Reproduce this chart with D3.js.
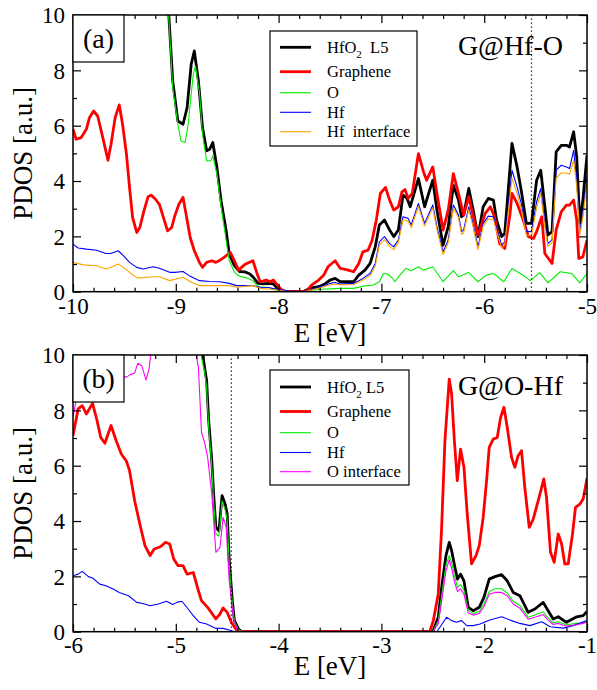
<!DOCTYPE html>
<html>
<head>
<meta charset="utf-8">
<script src="https://cdn.jsdelivr.net/npm/d3@7"></script>
<style>
  body { margin: 0; background: #fff; }
  svg text { font-family: "Liberation Serif", "Times New Roman", "DejaVu Serif", serif !important; white-space: pre; }
</style>
</head>
<body>
<svg id="chart" width="597" height="690"></svg>
<script>
// ---- data: [E (eV), PDOS (a.u.)] ----
// panel (a) G@Hf-O
const aTotal = [[-10,14],[-9.10,12],[-9.03,7.62],[-8.98,6.17],[-8.93,6.05],[-8.89,6.65],[-8.85,8.22],[-8.82,8.70],[-8.78,7.62],[-8.74,5.93],[-8.70,5.09],[-8.67,5.15],[-8.64,5.39],[-8.60,4.49],[-8.56,3.29],[-8.51,2.20],[-8.48,1.36],[-8.43,0.94],[-8.38,0.73],[-8.33,0.72],[-8.28,0.64],[-8.25,0.54],[-8.20,0.30],[-8.16,0.28],[-8.10,0.30],[-8.05,0.28],[-8.00,0.08],[-7.92,0],[-7.76,0],[-7.70,0.12],[-7.61,0.18],[-7.55,0.28],[-7.50,0.42],[-7.45,0.48],[-7.40,0.36],[-7.34,0.36],[-7.27,0.36],[-7.22,0.60],[-7.16,0.78],[-7.11,1.02],[-7.06,1.62],[-7.02,2.41],[-6.97,2.59],[-6.92,2.23],[-6.88,1.99],[-6.835,2.23],[-6.79,3.49],[-6.75,3.37],[-6.72,3.07],[-6.64,4.09],[-6.58,3.07],[-6.50,4.03],[-6.46,2.95],[-6.40,1.68],[-6.35,2.35],[-6.30,3.85],[-6.25,3.31],[-6.22,2.71],[-6.20,2.77],[-6.15,3.73],[-6.11,3.01],[-6.06,1.99],[-6.01,3.07],[-5.96,3.37],[-5.91,3.31],[-5.88,2.59],[-5.83,1.99],[-5.80,2.11],[-5.73,5.36],[-5.68,4.51],[-5.64,3.67],[-5.59,2.47],[-5.54,2.47],[-5.49,4.03],[-5.45,4.39],[-5.41,3.07],[-5.38,2.05],[-5.34,2.17],[-5.30,5.05],[-5.25,5.29],[-5.20,5.29],[-5.17,5.23],[-5.13,5.78],[-5.10,4.87],[-5.07,2.47],[-5.04,3.31],[-5.00,4.93]];
const aGraphene = [[-10,5.87],[-9.97,5.51],[-9.92,5.57],[-9.87,5.87],[-9.84,6.29],[-9.80,6.53],[-9.76,6.35],[-9.71,5.57],[-9.66,4.75],[-9.63,5.33],[-9.59,6.29],[-9.55,6.75],[-9.52,6.11],[-9.48,4.97],[-9.45,3.77],[-9.42,2.68],[-9.38,2.14],[-9.35,2.32],[-9.31,2.92],[-9.27,3.43],[-9.24,3.49],[-9.20,3.35],[-9.16,3.16],[-9.12,2.68],[-9.08,2.20],[-9.04,2.32],[-9.01,2.74],[-8.97,3.16],[-8.93,3.41],[-8.90,2.80],[-8.86,1.96],[-8.82,1.48],[-8.77,1.06],[-8.74,0.88],[-8.70,1.06],[-8.65,1.12],[-8.61,1.06],[-8.57,1.14],[-8.53,1.24],[-8.47,1.42],[-8.43,1.12],[-8.39,0.78],[-8.33,0.98],[-8.25,1.12],[-8.21,0.66],[-8.18,0.36],[-8.12,0.42],[-8.08,0.36],[-8.05,0.42],[-8.00,0.18],[-7.95,0],[-7.73,0],[-7.68,0.24],[-7.61,0.42],[-7.56,0.60],[-7.52,0.90],[-7.45,1.12],[-7.40,0.84],[-7.34,0.80],[-7.27,0.72],[-7.22,1.02],[-7.18,1.44],[-7.13,1.50],[-7.09,1.86],[-7.05,2.58],[-7.01,3.55],[-6.96,3.77],[-6.92,3.31],[-6.88,2.95],[-6.835,3.07],[-6.80,3.61],[-6.77,3.69],[-6.74,3.37],[-6.70,3.55],[-6.64,4.99],[-6.59,4.33],[-6.56,4.03],[-6.50,4.51],[-6.46,3.55],[-6.40,2.23],[-6.35,2.95],[-6.30,4.27],[-6.25,3.55],[-6.20,2.77],[-6.15,3.43],[-6.11,2.77],[-6.06,2.05],[-5.99,2.83],[-5.94,3.07],[-5.90,2.71],[-5.85,1.74],[-5.80,1.56],[-5.75,2.77],[-5.73,3.55],[-5.68,3.19],[-5.62,2.59],[-5.57,1.99],[-5.52,1.93],[-5.49,2.17],[-5.44,2.71],[-5.41,1.38],[-5.34,1.02],[-5.30,2.23],[-5.25,2.89],[-5.20,3.13],[-5.17,3.13],[-5.13,3.31],[-5.10,2.59],[-5.08,1.20],[-5.04,1.26],[-5.00,1.87]];
const aO = [[-10,14],[-9.10,12],[-9.03,7.38],[-8.98,6.05],[-8.95,5.45],[-8.91,5.39],[-8.88,6.05],[-8.83,7.86],[-8.81,8.16],[-8.77,7.20],[-8.74,5.69],[-8.70,4.73],[-8.66,4.73],[-8.64,4.91],[-8.60,4.25],[-8.56,3.10],[-8.51,1.84],[-8.48,1.12],[-8.43,0.70],[-8.38,0.56],[-8.31,0.50],[-8.25,0.40],[-8.20,0.18],[-8.10,0.15],[-8.00,0.05],[-7.92,0],[-7.75,0],[-7.63,0.08],[-7.40,0.12],[-7.27,0.12],[-7.18,0.20],[-7.08,0.24],[-7.02,0.36],[-6.98,0.66],[-6.94,0.64],[-6.89,0.48],[-6.87,0.36],[-6.82,0.60],[-6.76,0.84],[-6.71,0.76],[-6.64,0.90],[-6.59,0.78],[-6.50,0.90],[-6.40,0.36],[-6.30,0.76],[-6.25,0.54],[-6.15,0.69],[-6.06,0.36],[-5.98,0.60],[-5.91,0.66],[-5.81,0.36],[-5.73,0.84],[-5.65,0.66],[-5.55,0.40],[-5.46,0.69],[-5.38,0.32],[-5.26,0.72],[-5.15,0.66],[-5.07,0.32],[-5.00,0.66]];
const aHf = [[-10,1.72],[-9.95,1.58],[-9.87,1.54],[-9.77,1.50],[-9.68,1.38],[-9.63,1.38],[-9.56,1.48],[-9.51,1.30],[-9.45,1.06],[-9.38,0.88],[-9.32,0.82],[-9.22,0.90],[-9.16,0.85],[-9.06,0.70],[-9.01,0.70],[-8.93,0.73],[-8.87,0.58],[-8.77,0.40],[-8.67,0.37],[-8.57,0.36],[-8.48,0.30],[-8.41,0.22],[-8.31,0.22],[-8.25,0.22],[-8.18,0.16],[-8.10,0.15],[-8.00,0.08],[-7.90,0.02],[-7.75,0],[-7.61,0.16],[-7.50,0.30],[-7.45,0.33],[-7.40,0.28],[-7.27,0.30],[-7.18,0.48],[-7.11,0.66],[-7.06,1.02],[-7.02,1.80],[-6.97,1.99],[-6.92,1.74],[-6.88,1.62],[-6.835,1.87],[-6.79,2.71],[-6.74,2.65],[-6.71,2.41],[-6.64,3.19],[-6.58,2.47],[-6.50,3.13],[-6.46,2.35],[-6.40,1.44],[-6.35,1.87],[-6.30,3.13],[-6.25,2.77],[-6.22,2.17],[-6.20,2.23],[-6.15,3.07],[-6.11,2.47],[-6.06,1.62],[-6.01,2.47],[-5.96,2.73],[-5.91,2.71],[-5.88,2.29],[-5.83,1.68],[-5.80,1.80],[-5.73,4.39],[-5.68,3.79],[-5.64,3.19],[-5.59,2.17],[-5.54,2.17],[-5.49,3.25],[-5.45,3.73],[-5.41,2.47],[-5.38,1.74],[-5.34,1.87],[-5.30,4.39],[-5.25,4.57],[-5.20,4.51],[-5.17,4.45],[-5.13,5.11],[-5.10,4.03],[-5.07,2.17],[-5.04,2.83],[-5.00,4.15]];
const aHfInt = [[-10,1.06],[-9.90,0.97],[-9.77,0.94],[-9.68,0.82],[-9.63,0.88],[-9.56,1.00],[-9.51,0.88],[-9.43,0.64],[-9.37,0.49],[-9.22,0.54],[-9.16,0.54],[-9.06,0.40],[-8.93,0.52],[-8.85,0.34],[-8.77,0.22],[-8.57,0.22],[-8.48,0.22],[-8.41,0.16],[-8.25,0.22],[-8.18,0.12],[-8.10,0.10],[-8.00,0.05],[-7.90,0],[-7.75,0],[-7.61,0.12],[-7.50,0.25],[-7.45,0.28],[-7.40,0.24],[-7.27,0.26],[-7.18,0.42],[-7.11,0.58],[-7.06,0.92],[-7.02,1.68],[-6.97,1.88],[-6.92,1.64],[-6.88,1.52],[-6.835,1.77],[-6.79,2.60],[-6.74,2.55],[-6.71,2.31],[-6.64,3.08],[-6.58,2.37],[-6.50,3.02],[-6.46,2.25],[-6.40,1.34],[-6.35,1.77],[-6.30,3.02],[-6.25,2.67],[-6.22,2.07],[-6.20,2.13],[-6.15,2.97],[-6.11,2.37],[-6.06,1.52],[-6.01,2.37],[-5.96,2.63],[-5.91,2.61],[-5.88,2.19],[-5.83,1.58],[-5.80,1.70],[-5.73,4.10],[-5.68,3.55],[-5.64,3.00],[-5.59,2.05],[-5.54,2.02],[-5.49,3.05],[-5.45,3.55],[-5.41,2.35],[-5.38,1.64],[-5.34,1.77],[-5.30,4.10],[-5.25,4.30],[-5.20,4.28],[-5.17,4.25],[-5.13,4.75],[-5.10,3.80],[-5.07,2.05],[-5.04,2.70],[-5.00,3.95]];

// panel (b) G@O-Hf
const bTotal = [[-6,14],[-4.77,12],[-4.73,9.8],[-4.70,9.07],[-4.68,7.63],[-4.65,6.18],[-4.63,4.86],[-4.61,3.77],[-4.58,3.65],[-4.55,4.92],[-4.52,4.61],[-4.50,4.25],[-4.48,2.57],[-4.45,1.12],[-4.43,0.40],[-4.39,0.10],[-4.36,0],[-2.50,0],[-2.447,0.52],[-2.414,1.60],[-2.372,2.75],[-2.34,3.23],[-2.317,2.93],[-2.285,2.33],[-2.26,1.90],[-2.23,2.08],[-2.197,1.84],[-2.155,0.88],[-2.107,0.76],[-2.048,0.88],[-2.003,1.24],[-1.951,1.90],[-1.896,1.99],[-1.831,2.06],[-1.776,1.84],[-1.718,1.42],[-1.653,1.30],[-1.572,0.70],[-1.507,0.82],[-1.426,1.06],[-1.378,0.76],[-1.329,0.46],[-1.28,0.54],[-1.20,0.34],[-1.10,0.54],[-1.037,0.58],[-1.00,0.73]];
const bGraphene = [[-6,7.08],[-5.95,8.05],[-5.91,8.17],[-5.87,7.87],[-5.81,8.25],[-5.77,7.69],[-5.73,7.02],[-5.69,6.81],[-5.63,7.45],[-5.58,6.90],[-5.53,6.42],[-5.48,6.16],[-5.45,5.82],[-5.40,4.73],[-5.35,3.89],[-5.30,3.11],[-5.25,2.75],[-5.21,2.99],[-5.15,3.07],[-5.10,3.23],[-5.06,3.17],[-5.02,2.63],[-4.98,2.39],[-4.93,2.39],[-4.89,2.08],[-4.83,2.14],[-4.78,1.48],[-4.75,1.12],[-4.69,0.88],[-4.61,0.46],[-4.57,0.64],[-4.54,0.86],[-4.50,0.70],[-4.46,0.34],[-4.41,0.06],[-4.38,0],[-2.53,0],[-2.495,0.40],[-2.447,1.36],[-2.414,3.77],[-2.382,6.90],[-2.366,7.75],[-2.34,9.13],[-2.317,8.59],[-2.29,6.90],[-2.262,5.46],[-2.23,6.60],[-2.197,5.94],[-2.165,4.25],[-2.123,2.45],[-2.08,2.75],[-2.048,3.11],[-2.01,4.13],[-1.977,5.46],[-1.951,6.66],[-1.912,6.96],[-1.873,7.02],[-1.84,7.75],[-1.808,8.11],[-1.776,7.39],[-1.734,6.30],[-1.702,5.94],[-1.67,6.36],[-1.637,6.54],[-1.605,5.22],[-1.562,3.77],[-1.523,4.07],[-1.475,4.73],[-1.42,5.52],[-1.394,4.86],[-1.355,2.87],[-1.319,2.51],[-1.28,3.53],[-1.248,3.19],[-1.216,2.45],[-1.183,2.45],[-1.141,3.53],[-1.112,4.49],[-1.07,4.61],[-1.037,4.80],[-1.00,5.55]];
const bO = [[-6,14],[-4.78,12],[-4.75,9.9],[-4.72,9.4],[-4.70,8.8],[-4.68,7.4],[-4.65,6.0],[-4.63,4.6],[-4.61,3.53],[-4.58,3.45],[-4.55,4.73],[-4.52,4.40],[-4.50,4.05],[-4.48,2.40],[-4.45,1.0],[-4.43,0.35],[-4.39,0.08],[-4.36,0],[-2.50,0],[-2.447,0.40],[-2.414,1.30],[-2.372,2.40],[-2.34,2.75],[-2.317,2.50],[-2.285,1.95],[-2.26,1.60],[-2.23,1.70],[-2.197,1.50],[-2.155,0.78],[-2.107,0.65],[-2.048,0.74],[-2.003,1.00],[-1.951,1.45],[-1.896,1.55],[-1.831,1.55],[-1.776,1.40],[-1.718,1.10],[-1.653,0.95],[-1.572,0.52],[-1.507,0.60],[-1.426,0.72],[-1.378,0.50],[-1.329,0.32],[-1.28,0.36],[-1.20,0.25],[-1.10,0.30],[-1.037,0.32],[-1.00,0.38]];
const bHf = [[-6,2.02],[-5.95,2.08],[-5.91,2.18],[-5.85,1.99],[-5.81,1.94],[-5.74,1.72],[-5.68,1.66],[-5.61,1.54],[-5.55,1.42],[-5.46,1.30],[-5.38,1.06],[-5.32,1.02],[-5.25,0.94],[-5.17,1.00],[-5.09,1.10],[-5.03,0.98],[-4.99,1.06],[-4.94,1.10],[-4.88,0.82],[-4.83,0.58],[-4.77,0.34],[-4.70,0.28],[-4.62,0.13],[-4.54,0.12],[-4.48,0.06],[-4.43,0],[-2.46,0],[-2.366,0.52],[-2.317,0.40],[-2.27,0.34],[-2.22,0.40],[-2.17,0.22],[-2.107,0.22],[-2.04,0.28],[-1.945,0.42],[-1.83,0.54],[-1.734,0.40],[-1.653,0.30],[-1.556,0.22],[-1.44,0.36],[-1.36,0.18],[-1.23,0.13],[-1.134,0.22],[-1.00,0.40]];
const bOInt = [[-6,7.75],[-5.97,8.35],[-5.95,8.95],[-5.92,10.6],[-5.62,10.8],[-5.58,9.40],[-5.53,9.25],[-5.48,9.20],[-5.44,9.30],[-5.40,9.35],[-5.37,9.70],[-5.33,9.60],[-5.29,9.10],[-5.26,9.50],[-5.22,10.8],[-4.84,10.8],[-4.78,9.55],[-4.75,7.20],[-4.72,6.84],[-4.69,6.30],[-4.65,4.98],[-4.61,2.87],[-4.57,3.05],[-4.54,4.13],[-4.51,3.77],[-4.48,1.84],[-4.44,0.52],[-4.40,0.04],[-4.38,0],[-2.50,0],[-2.447,0.30],[-2.414,1.10],[-2.372,2.20],[-2.34,2.60],[-2.317,2.30],[-2.285,1.75],[-2.26,1.45],[-2.23,1.55],[-2.197,1.35],[-2.155,0.68],[-2.107,0.60],[-2.048,0.66],[-2.003,0.90],[-1.951,1.35],[-1.896,1.42],[-1.831,1.42],[-1.776,1.30],[-1.718,1.00],[-1.653,0.85],[-1.572,0.45],[-1.507,0.52],[-1.426,0.62],[-1.378,0.42],[-1.329,0.26],[-1.28,0.30],[-1.20,0.20],[-1.10,0.25],[-1.037,0.30],[-1.00,0.35]];

const aLabels = ["HfO_2  L5", "Graphene", "O", "Hf", "Hf  interface"];
const bLabels = ["HfO_2 L5", "Graphene", "O", "Hf", "O interface"];
const yTicks = [0, 2, 4, 6, 8, 10];

const serif = '"Liberation Serif", "Times New Roman", "DejaVu Serif", serif';
const svg = d3.select("#chart").attr("font-family", serif);
const left = 73, right = 587;

const panels = [
  {top: 15, bottom: 291.7, xDomain: [-10, -5], xTicks: [-10, -9, -8, -7, -6, -5],
   tag: "(a)", title: "G@Hf-O", fermi: -5.54,
   series: [aTotal, aGraphene, aO, aHf, aHfInt], labels: aLabels,
   colors: ["#000", "#ff0000", "#00ee00", "#0000ff", "#ffa500"],
   legend: {x: 270, y: 31, w: 147, h: 115, rows: [47.3, 71.7, 92.7, 112.3, 131.7]},
   tickBase: 314.5, xTitleBase: 341.7},
  {top: 355, bottom: 631.7, xDomain: [-6, -1], xTicks: [-6, -5, -4, -3, -2, -1],
   tag: "(b)", title: "G@O-Hf", fermi: -4.46,
   series: [bTotal, bGraphene, bO, bHf, bOInt], labels: bLabels,
   colors: ["#000", "#ff0000", "#00ee00", "#0000ff", "#ff00ff"],
   legend: {x: 270, y: 370, w: 139, h: 115, rows: [387, 411.5, 432.7, 452.5, 471.7]},
   tickBase: 653.5, xTitleBase: 675}
];
const widths = [2.8, 2.8, 1.1, 1.1, 1.1];

panels.forEach((p, pi) => {
  const x = d3.scaleLinear().domain(p.xDomain).range([left, right]);
  const y = d3.scaleLinear().domain([0, 10]).range([p.bottom, p.top]);
  const g = svg.append("g");

  const minorX = d3.range(0, 26).map(i => p.xDomain[0] + i * 0.2)
    .map(v => Math.round(v * 10) / 10).filter(v => !p.xTicks.includes(v));
  const minorY = [1, 3, 5, 7, 9];

  // clip
  const clipId = "clip" + pi;
  svg.append("clipPath").attr("id", clipId).append("rect")
    .attr("x", left).attr("y", p.top).attr("width", right - left).attr("height", p.bottom - p.top);

  // curves
  const line = d3.line().x(d => x(d[0])).y(d => y(d[1]));
  const curves = g.append("g").attr("clip-path", `url(#${clipId})`);
  p.series.forEach((s, i) => {
    curves.append("path").datum(s)
      .attr("fill", "none").attr("stroke", p.colors[i]).attr("stroke-width", widths[i])
      .attr("stroke-linejoin", "round").attr("d", line);
  });

  // dotted fermi line
  g.append("line")
    .attr("x1", x(p.fermi)).attr("x2", x(p.fermi)).attr("y1", y(0)).attr("y2", y(10))
    .attr("stroke", "#000").attr("stroke-width", 1.2).attr("stroke-dasharray", "1.3,2.7");

  // axes with inward ticks on all four sides
  const font = g => g.attr("font-family", serif).selectAll("text")
    .attr("font-size", 23).attr("fill", "#000");
  const clean = g => { g.select(".domain").remove(); g.selectAll("line").attr("stroke-width", 1.2); };

  g.append("g").attr("transform", `translate(0,${p.bottom})`)
    .call(d3.axisBottom(x).tickValues(p.xTicks).tickSize(-8).tickPadding(0)
      .tickFormat(d => d3.format("d")(d).replace("\u2212", "-")))
    .call(clean).call(font)
    .selectAll("text").attr("dy", null).attr("y", p.tickBase - p.bottom);
  g.append("g").attr("transform", `translate(0,${p.bottom})`)
    .call(d3.axisBottom(x).tickValues(minorX).tickSize(-4).tickFormat(""))
    .call(clean);
  g.append("g").attr("transform", `translate(0,${p.top})`)
    .call(d3.axisTop(x).tickValues(p.xTicks).tickSize(-8).tickFormat(""))
    .call(clean);
  g.append("g").attr("transform", `translate(0,${p.top})`)
    .call(d3.axisTop(x).tickValues(minorX).tickSize(-4).tickFormat(""))
    .call(clean);
  g.append("g").attr("transform", `translate(${left},0)`)
    .call(d3.axisLeft(y).tickValues(yTicks).tickSize(-8).tickPadding(8))
    .call(clean).call(font)
    .selectAll("text").attr("dy", "0.34em");
  g.append("g").attr("transform", `translate(${left},0)`)
    .call(d3.axisLeft(y).tickValues(minorY).tickSize(-4).tickFormat(""))
    .call(clean);
  g.append("g").attr("transform", `translate(${right},0)`)
    .call(d3.axisRight(y).tickValues(yTicks).tickSize(-8).tickFormat(""))
    .call(clean);
  g.append("g").attr("transform", `translate(${right},0)`)
    .call(d3.axisRight(y).tickValues(minorY).tickSize(-4).tickFormat(""))
    .call(clean);

  // frame
  g.append("rect").attr("x", left).attr("y", p.top)
    .attr("width", right - left).attr("height", p.bottom - p.top)
    .attr("fill", "none").attr("stroke", "#000").attr("stroke-width", 1.5);

  // panel tag box
  g.append("rect").attr("x", left).attr("y", p.top).attr("width", 51).attr("height", 47)
    .attr("fill", "#fff").attr("stroke", "#000").attr("stroke-width", 1.2);
  g.append("text").attr("x", left + 25.5).attr("y", p.top + 33)
    .attr("text-anchor", "middle").attr("font-size", 28).text(p.tag);

  // title
  g.append("text").attr("x", 563).attr("y", p.top + 40)
    .attr("text-anchor", "end").attr("font-size", 28).text(p.title);

  // legend
  const L = p.legend;
  g.append("rect").attr("x", L.x).attr("y", L.y).attr("width", L.w).attr("height", L.h)
    .attr("fill", "#fff").attr("stroke", "#000").attr("stroke-width", 1.2);
  p.labels.forEach((lab, i) => {
    const ry = L.rows[i];
    g.append("line").attr("x1", 280).attr("x2", 311).attr("y1", ry).attr("y2", ry)
      .attr("stroke", p.colors[i]).attr("stroke-width", widths[i]);
    const t = g.append("text").attr("x", 327).attr("y", ry + 5.5).attr("font-size", 16.5);
    const parts = lab.split("_");
    if (parts.length === 1) {
      t.text(lab);
    } else {
      t.append("tspan").text(parts[0]);
      t.append("tspan").attr("font-size", 11).attr("dy", 5).text(parts[1][0]);
      t.append("tspan").attr("dy", -5).text(parts[1].slice(1));
    }
  });

  // axis titles
  g.append("text").attr("x", (left + right) / 2).attr("y", p.xTitleBase)
    .attr("text-anchor", "middle").attr("font-size", 27).text("E [eV]");
  g.append("text")
    .attr("transform", `translate(32,${(p.top + p.bottom) / 2}) rotate(-90)`)
    .attr("text-anchor", "middle").attr("font-size", 27).text("PDOS [a.u.]");
});
</script>
</body>
</html>
